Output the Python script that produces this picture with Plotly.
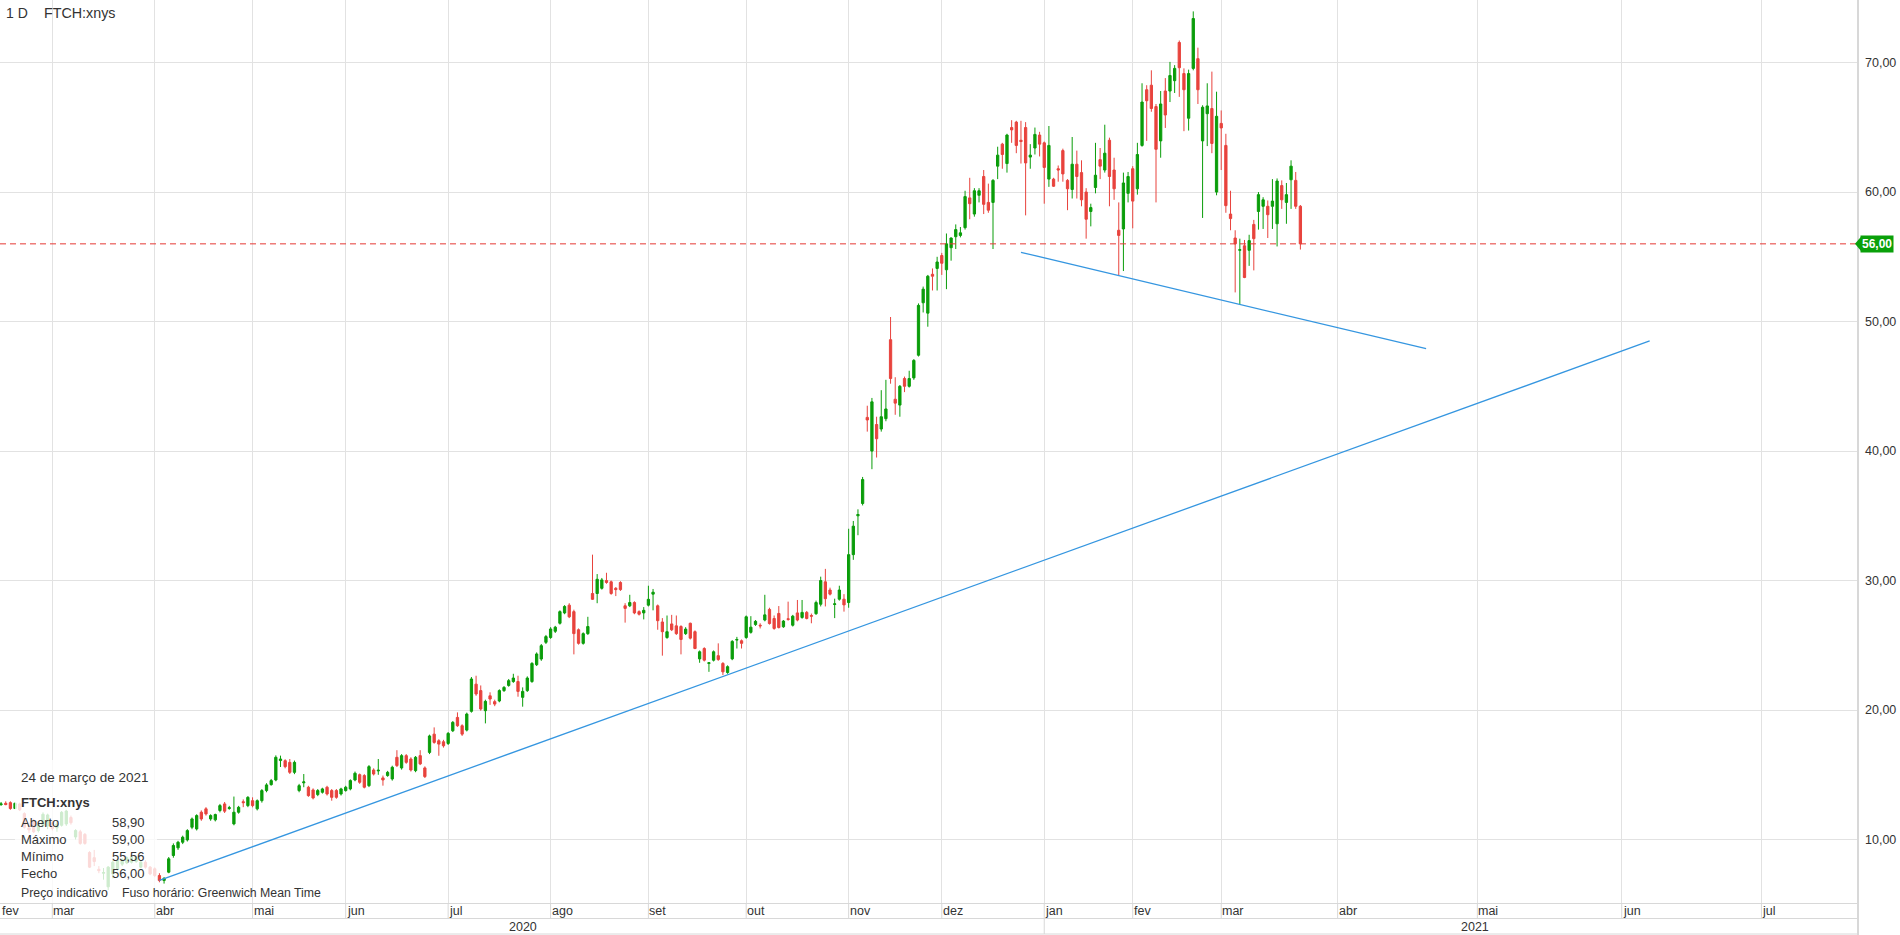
import plotly.graph_objects as go
import pandas as pd

# ---------------- DATA ----------------
holidays = ["2020-02-17", "2020-04-10", "2020-05-25", "2020-07-03", "2020-09-07",
            "2020-11-26", "2020-12-25", "2021-01-01", "2021-01-18", "2021-02-15"]

# (open, high, low, close) per trading day, per month
ohlc_2020_02 = [(12.55, 12.85, 12.45, 12.75), (12.70, 12.90, 12.60, 12.75), (12.80, 12.95, 12.65, 12.70),
                (12.85, 12.95, 12.30, 12.40), (12.40, 12.85, 12.35, 12.80), (12.75, 12.85, 12.20, 12.30),
                (12.00, 12.10, 10.85, 10.95), (10.90, 11.30, 10.50, 10.75), (11.45, 11.60, 10.50, 10.60),
                (10.70, 11.30, 10.55, 11.15), (11.10, 12.10, 10.95, 11.95), (11.05, 12.00, 10.80, 11.90)]
ohlc_2020_03 = [(11.30, 11.45, 10.70, 10.85), (10.90, 11.40, 10.60, 11.20), (11.10, 12.20, 11.00, 12.10),
                (11.20, 12.30, 11.05, 12.20), (11.70, 11.85, 11.15, 11.30), (10.20, 10.80, 10.00, 10.70),
                (10.60, 10.75, 9.60, 9.70), (10.40, 10.50, 9.60, 9.70), (9.00, 9.10, 7.80, 7.87),
                (8.60, 9.20, 7.95, 8.30), (7.70, 7.95, 7.40, 7.60), (7.40, 7.80, 6.90, 7.45),
                (6.35, 7.95, 6.10, 7.87), (7.35, 8.40, 7.00, 8.25), (7.70, 8.60, 7.60, 8.38),
                (8.10, 8.55, 7.95, 8.45), (8.20, 8.70, 8.10, 8.60), (8.25, 8.80, 8.15, 8.65),
                (8.30, 8.70, 8.20, 8.60), (7.87, 8.35, 7.80, 8.25), (8.25, 8.40, 7.75, 7.87),
                (7.87, 7.95, 7.25, 7.35)]
ohlc_2020_04 = [(7.74, 7.85, 7.10, 7.22), (7.22, 7.40, 6.70, 6.84), (6.84, 7.10, 6.60, 7.00),
                (7.48, 8.65, 7.40, 8.51), (8.77, 9.70, 8.60, 9.54), (9.36, 9.90, 9.20, 9.79),
                (9.79, 10.30, 9.65, 10.18), (9.97, 10.80, 9.85, 10.69), (10.95, 11.70, 10.80, 11.59),
                (10.82, 11.95, 10.70, 11.85), (12.11, 12.25, 11.45, 11.59), (12.37, 12.50, 11.85, 11.98),
                (11.59, 11.95, 11.45, 11.85), (11.52, 12.00, 11.40, 11.93), (12.24, 12.75, 12.10, 12.62),
                (12.75, 12.90, 12.05, 12.19), (12.40, 12.60, 12.30, 12.46), (11.21, 13.32, 11.10, 12.11),
                (12.11, 12.60, 12.00, 12.49), (12.92, 13.10, 12.50, 12.85), (12.62, 13.35, 12.50, 13.26)]
ohlc_2020_05 = [(13.00, 13.26, 12.49, 12.62), (12.37, 13.10, 12.25, 13.00), (13.00, 13.90, 12.85, 13.78),
                (13.78, 14.35, 13.65, 14.22), (14.24, 14.68, 14.16, 14.55), (14.60, 16.50, 14.50, 16.35),
                (16.10, 16.48, 15.60, 16.22), (16.09, 16.20, 15.50, 15.63), (15.96, 16.22, 15.06, 15.19),
                (15.19, 16.10, 15.05, 15.96), (13.78, 14.30, 13.65, 14.16), (14.38, 15.06, 14.04, 14.45),
                (14.04, 14.15, 13.30, 13.39), (13.83, 13.95, 13.10, 13.21), (13.47, 13.90, 13.35, 13.78),
                (13.65, 14.00, 13.55, 13.91), (14.04, 14.15, 13.40, 13.52), (13.78, 13.90, 13.00, 13.26),
                (13.78, 13.90, 13.15, 13.26), (13.52, 14.00, 13.40, 13.91)]
ohlc_2020_06 = [(13.78, 14.15, 13.70, 14.04), (13.91, 14.65, 13.80, 14.55), (14.60, 15.25, 14.50, 15.12),
                (15.01, 15.10, 14.30, 14.42), (14.94, 15.05, 13.95, 14.04), (14.16, 15.75, 14.05, 15.63),
                (15.37, 15.50, 14.95, 15.06), (15.30, 16.22, 15.00, 15.35), (14.76, 14.94, 14.16, 14.60),
                (14.94, 15.30, 14.85, 15.19), (14.68, 15.70, 14.55, 15.58), (16.35, 16.90, 15.60, 15.71),
                (15.53, 16.60, 15.40, 16.48), (16.48, 16.60, 15.85, 15.96), (16.22, 16.35, 15.25, 15.37),
                (15.32, 16.45, 15.20, 16.35), (16.48, 16.90, 15.75, 15.84), (15.53, 15.65, 14.75, 14.86),
                (16.73, 18.10, 16.60, 18.00), (18.14, 18.66, 17.40, 17.50), (17.63, 17.75, 16.47, 17.37),
                (17.55, 17.70, 17.10, 17.24)]
ohlc_2020_07 = [(17.42, 18.30, 17.30, 18.20), (18.40, 19.15, 18.30, 19.05), (19.43, 19.82, 18.70, 18.79),
                (18.79, 18.90, 18.00, 18.14), (18.45, 19.80, 18.35, 19.69), (19.90, 22.55, 19.80, 22.40),
                (22.00, 22.65, 21.10, 21.24), (21.50, 21.90, 19.95, 20.08), (19.95, 20.80, 18.97, 20.67),
                (21.10, 21.37, 20.40, 20.85), (20.65, 20.80, 20.30, 20.46), (20.70, 21.60, 20.60, 21.50),
                (21.50, 21.85, 21.40, 21.75), (21.90, 22.40, 21.80, 22.27), (22.20, 22.80, 22.10, 22.47),
                (22.20, 22.65, 21.03, 21.44), (20.98, 21.75, 20.26, 21.44), (21.50, 22.60, 21.40, 22.47),
                (22.20, 23.70, 22.10, 23.60), (23.50, 24.45, 23.40, 24.33), (23.94, 25.10, 23.80, 24.97),
                (25.23, 25.80, 25.10, 25.67)]
ohlc_2020_08 = [(25.60, 26.40, 25.50, 26.26), (26.08, 26.50, 25.95, 26.40), (26.70, 27.70, 26.60, 27.60),
                (27.50, 28.10, 27.40, 28.00), (28.10, 28.25, 27.10, 27.20), (27.60, 27.75, 24.30, 25.90),
                (26.20, 26.30, 25.05, 25.15), (25.15, 26.00, 25.05, 25.90), (25.90, 27.20, 25.80, 26.45),
                (29.00, 32.00, 28.50, 28.55), (29.00, 30.50, 28.25, 30.10), (29.40, 30.20, 29.30, 30.05),
                (30.00, 30.60, 29.75, 29.85), (29.90, 30.00, 28.90, 29.00), (29.40, 29.50, 28.80, 29.30),
                (29.85, 29.95, 29.20, 29.30), (28.05, 28.25, 26.75, 27.85), (28.05, 28.90, 27.95, 28.30),
                (28.30, 28.40, 27.40, 27.50), (27.60, 27.70, 27.30, 27.40), (27.50, 27.95, 27.00, 27.70)]
ohlc_2020_09 = [(28.10, 29.60, 28.00, 28.55), (28.95, 29.35, 27.70, 29.10), (28.05, 28.15, 26.20, 26.90),
                (26.80, 27.10, 24.20, 26.05), (25.60, 27.30, 25.50, 26.05), (26.65, 27.35, 26.10, 26.20),
                (26.50, 27.30, 25.80, 25.90), (26.45, 26.55, 24.30, 25.45), (25.90, 26.40, 25.80, 26.25),
                (26.70, 26.75, 25.45, 25.55), (26.05, 26.15, 24.70, 24.75), (23.95, 24.60, 23.65, 24.50),
                (24.75, 24.85, 23.75, 23.85), (23.60, 23.70, 22.95, 23.65), (23.85, 24.60, 23.75, 24.50),
                (24.20, 25.15, 23.80, 23.90), (23.60, 23.70, 22.70, 22.95), (22.90, 23.45, 22.80, 23.35),
                (23.95, 25.40, 23.85, 25.30), (25.40, 25.65, 24.75, 25.45), (25.35, 25.45, 24.75, 25.15)]
ohlc_2020_10 = [(25.60, 27.30, 25.50, 27.20), (26.00, 27.25, 25.90, 26.40), (26.60, 26.95, 26.50, 26.85),
                (26.55, 26.70, 26.30, 26.50), (26.95, 28.90, 26.85, 27.35), (27.77, 27.90, 26.60, 26.68),
                (27.07, 27.30, 26.20, 26.30), (27.46, 28.03, 26.30, 26.37), (26.43, 26.95, 26.35, 26.87),
                (27.05, 28.37, 26.90, 27.00), (26.55, 27.35, 26.45, 27.25), (27.50, 28.50, 26.85, 26.95),
                (27.15, 28.50, 27.05, 27.54), (27.54, 27.65, 27.00, 27.07), (27.30, 27.45, 26.70, 27.25),
                (27.44, 28.45, 27.35, 28.30), (28.17, 30.30, 28.00, 30.00), (29.90, 30.90, 28.00, 28.60),
                (29.27, 29.45, 28.85, 28.95), (28.15, 28.60, 27.10, 28.20), (28.56, 29.60, 28.45, 29.27),
                (28.56, 28.95, 27.60, 28.12)]
ohlc_2020_11 = [(28.30, 34.00, 27.90, 32.00), (32.00, 34.60, 31.60, 34.20), (35.00, 35.50, 33.50, 35.10),
                (35.95, 38.00, 35.80, 37.80), (42.60, 43.50, 41.50, 42.40), (40.00, 44.10, 38.60, 43.80),
                (42.05, 42.65, 39.50, 40.95), (41.70, 44.70, 41.50, 42.65), (42.50, 45.50, 42.30, 43.25),
                (48.60, 50.35, 45.20, 45.60), (44.00, 45.70, 42.80, 43.70), (43.55, 45.10, 42.65, 45.00),
                (45.60, 45.75, 44.55, 45.00), (45.00, 46.20, 44.90, 45.60), (45.65, 47.10, 45.50, 47.00),
                (47.40, 51.40, 47.30, 51.25), (51.45, 52.70, 50.70, 52.50), (50.65, 53.60, 49.60, 53.50),
                (53.65, 54.10, 52.40, 53.50), (54.10, 55.00, 52.40, 54.60)]
ohlc_2020_12 = [(55.10, 55.30, 53.60, 54.50), (54.00, 56.80, 52.50, 56.00), (55.70, 56.50, 54.70, 56.45),
                (56.55, 57.50, 55.60, 57.10), (56.65, 57.30, 56.50, 56.85), (57.25, 60.10, 57.10, 59.65),
                (59.55, 61.10, 57.90, 59.10), (58.30, 60.30, 58.10, 60.10), (59.75, 60.30, 59.20, 60.10),
                (61.20, 61.70, 58.30, 59.05), (59.20, 60.65, 58.40, 58.60), (59.20, 61.00, 55.60, 60.90),
                (62.00, 63.50, 61.00, 62.85), (63.70, 63.80, 61.80, 62.90), (62.20, 64.50, 61.50, 64.40),
                (64.98, 65.55, 63.80, 64.80), (65.40, 65.50, 63.00, 63.60), (64.00, 65.50, 62.20, 63.90),
                (64.98, 65.40, 58.20, 62.25), (62.70, 63.70, 61.80, 62.85), (63.40, 64.98, 62.90, 64.45),
                (64.40, 64.65, 62.75, 63.70)]
ohlc_2021_01 = [(63.80, 63.90, 59.10, 61.90), (61.00, 65.10, 60.40, 63.60), (61.00, 61.10, 60.40, 60.45),
                (61.80, 62.05, 60.80, 61.70), (63.20, 63.35, 60.80, 61.40), (60.90, 61.00, 58.60, 60.25),
                (60.20, 64.25, 59.50, 62.15), (62.15, 63.20, 59.50, 61.20), (61.50, 62.45, 58.90, 59.40),
                (60.00, 60.30, 56.40, 57.90), (58.50, 59.10, 57.35, 58.80), (60.35, 63.80, 59.90, 61.30),
                (62.50, 63.40, 61.00, 62.00), (61.70, 65.20, 61.50, 63.00), (64.00, 64.20, 58.90, 61.20),
                (61.70, 62.65, 59.40, 60.25), (57.05, 59.20, 53.55, 56.65), (57.15, 61.50, 53.90, 60.70),
                (59.90, 61.55, 59.20, 61.20)]
ohlc_2021_02 = [(61.80, 62.00, 57.20, 59.30), (60.25, 63.80, 59.80, 62.90), (63.60, 68.40, 63.50, 66.95),
                (67.90, 68.25, 63.95, 67.05), (68.25, 69.40, 66.20, 66.45), (66.60, 66.80, 59.20, 63.30),
                (63.95, 67.80, 62.65, 66.80), (67.80, 68.80, 64.95, 65.95), (67.80, 70.05, 66.95, 69.00),
                (68.60, 69.80, 67.65, 69.55), (71.55, 71.70, 67.35, 69.60), (69.15, 69.55, 64.70, 67.90),
                (65.70, 69.45, 64.75, 69.15), (69.55, 73.95, 69.40, 73.40), (70.30, 71.15, 66.80, 67.90),
                (63.95, 66.70, 58.00, 66.55), (66.05, 68.40, 63.55, 66.65), (66.45, 69.30, 63.00, 63.75),
                (60.00, 67.75, 59.75, 65.85)]
ohlc_2021_03 = [(65.30, 66.30, 61.70, 64.95), (63.60, 64.50, 58.40, 58.95), (58.30, 60.10, 57.05, 57.95),
                (56.45, 57.05, 52.25, 56.00), (55.50, 56.40, 51.35, 55.55), (55.85, 56.30, 53.35, 53.40),
                (55.50, 56.70, 54.30, 56.25), (57.50, 57.85, 53.95, 56.40), (58.50, 60.00, 57.10, 59.80),
                (58.90, 59.60, 57.15, 59.40), (58.90, 59.35, 56.45, 58.25), (58.90, 61.00, 57.15, 59.30),
                (57.55, 61.05, 55.80, 60.85), (60.50, 60.90, 58.70, 59.40), (59.20, 60.70, 57.55, 59.80),
                (60.95, 62.45, 58.70, 62.00), (60.90, 61.55, 58.70, 58.90), (58.90, 59.00, 55.56, 56.00)]

last_price = 56.00
last_label = "56,00"
info_date = "24 de março de 2021"
info_rows = [("Aberto", "58,90"), ("Máximo", "59,00"), ("Mínimo", "55,56"), ("Fecho", "56,00")]

# trend lines (date, price)
support_dates = ["2020-04-02", "2021-06-07"]
support_prices = [6.84, 48.5]
resist_dates = ["2020-12-24", "2021-04-20"]
resist_prices = [55.35, 47.9]

y_ticks = [10, 20, 30, 40, 50, 60, 70]
y_tick_text = ["10,00", "20,00", "30,00", "40,00", "50,00", "60,00", "70,00"]

month_ticks = ["2020-03-02", "2020-04-01", "2020-05-01", "2020-06-01", "2020-07-01", "2020-08-03",
               "2020-09-01", "2020-10-01", "2020-11-02", "2020-12-01", "2021-01-04", "2021-02-01",
               "2021-03-01", "2021-04-01", "2021-05-01", "2021-06-01", "2021-07-01"]
month_text = ["mar", "abr", "mai", "jun", "jul", "ago", "set", "out", "nov", "dez",
              "jan", "fev", "mar", "abr", "mai", "jun", "jul"]

# ---------------- BUILD ----------------
trade_days = [d.strftime("%Y-%m-%d") for d in pd.bdate_range("2020-02-12", "2021-03-24")
              if d.strftime("%Y-%m-%d") not in holidays]
future_days = [d.strftime("%Y-%m-%d") for d in pd.date_range("2021-03-25", "2021-08-10")]
all_days = trade_days + future_days

ohlc = (ohlc_2020_02 + ohlc_2020_03 + ohlc_2020_04 + ohlc_2020_05 + ohlc_2020_06 + ohlc_2020_07 +
        ohlc_2020_08 + ohlc_2020_09 + ohlc_2020_10 + ohlc_2020_11 + ohlc_2020_12 + ohlc_2021_01 +
        ohlc_2021_02 + ohlc_2021_03)
n = min(len(ohlc), len(trade_days))
dates = trade_days[-n:]
ohlc = ohlc[-n:]

W, H = 1900, 935
PL, PR, PT, PB = 0, 42, 0, 32
PW, PH = W - PL - PR, H - PT - PB


def px(x):
    return (x - PL) / PW


def py(y):
    return 1 - (y - PT) / PH


FONT = "Arial, Liberation Sans, Helvetica, sans-serif"
TXT = "#333333"
GREEN = "#0a9d0a"
RED = "#e8433d"
GRID = "#e2e2e2"
BAND = "#d8d8d8"
BLUE = "#3596e0"
AX_FONT = 12.5

fig = go.Figure()
fig.add_trace(go.Scatter(x=all_days, y=[None] * len(all_days), mode="lines",
                         hoverinfo="skip", showlegend=False))
fig.add_trace(go.Candlestick(
    x=dates,
    open=[r[0] for r in ohlc], high=[r[1] for r in ohlc],
    low=[r[2] for r in ohlc], close=[r[3] for r in ohlc],
    increasing=dict(line=dict(color=GREEN, width=1), fillcolor=GREEN),
    decreasing=dict(line=dict(color=RED, width=1), fillcolor=RED),
    whiskerwidth=0, showlegend=False))
fig.add_trace(go.Scatter(x=support_dates, y=support_prices, mode="lines",
                         line=dict(color=BLUE, width=1.3), hoverinfo="skip", showlegend=False))
fig.add_trace(go.Scatter(x=resist_dates, y=resist_prices, mode="lines",
                         line=dict(color=BLUE, width=1.3), hoverinfo="skip", showlegend=False))

x_left = all_days.index("2020-03-02") - 52.3 / 4.657
x_right = x_left + PW / 4.657

shapes = []
# last price dashed line
shapes.append(dict(type="line", xref="paper", yref="y", x0=0, x1=1, y0=last_price, y1=last_price,
                   line=dict(color="#e53935", width=1, dash="6px,4px")))
# info overlay box
shapes.append(dict(type="rect", xref="paper", yref="paper", x0=px(15), x1=px(157), y0=py(903), y1=py(760),
                   fillcolor="rgba(255,255,255,0.8)", line=dict(width=0), layer="above"))
# bottom band lines
for yy in (903.5, 918.5, 934):
    shapes.append(dict(type="line", xref="paper", yref="paper", x0=0, x1=1, y0=py(yy), y1=py(yy),
                       line=dict(color=BAND, width=1)))
# month separators in band
for d in month_ticks:
    y_end = py(934) if d == "2021-01-04" else py(918.5)
    shapes.append(dict(type="line", xref="x", yref="paper", x0=d, x1=d, y0=py(903.5), y1=y_end,
                       line=dict(color=BAND, width=1)))
# right axis line
shapes.append(dict(type="line", xref="paper", yref="paper", x0=1, x1=1, y0=1, y1=py(935),
                   line=dict(color=BAND, width=2)))
# price tag arrow
shapes.append(dict(type="path", xref="paper", yref="y",
                   path=f"M {px(1855)},{last_price} L {px(1861)},{last_price + 0.55} L {px(1861)},{last_price - 0.55} Z",
                   fillcolor="#0aa00a", line=dict(width=0)))

ann = []
ann.append(dict(xref="paper", yref="paper", x=px(0), y=py(911), text="fev", showarrow=False,
                xanchor="left", yanchor="middle", font=dict(size=AX_FONT, color=TXT, family=FONT)))
for d, t in zip(month_ticks, month_text):
    ann.append(dict(xref="x", yref="paper", x=d, y=py(911), text=t, showarrow=False, xshift=-1,
                    xanchor="left", yanchor="middle", font=dict(size=AX_FONT, color=TXT, family=FONT)))
ann.append(dict(xref="paper", yref="paper", x=px(523), y=py(926.5), text="2020", showarrow=False,
                xanchor="center", yanchor="middle", font=dict(size=AX_FONT, color=TXT, family=FONT)))
ann.append(dict(xref="paper", yref="paper", x=px(1475), y=py(926.5), text="2021", showarrow=False,
                xanchor="center", yanchor="middle", font=dict(size=AX_FONT, color=TXT, family=FONT)))
ann.append(dict(xref="paper", yref="paper", x=px(4), y=py(13), text="1 D", showarrow=False,
                xanchor="left", yanchor="middle", font=dict(size=14, color=TXT, family=FONT)))
ann.append(dict(xref="paper", yref="paper", x=px(42), y=py(13), text="FTCH:xnys", showarrow=False,
                xanchor="left", yanchor="middle", font=dict(size=14.3, color=TXT, family=FONT)))
ann.append(dict(xref="paper", yref="y", x=1, xshift=2, y=last_price, text="<b>" + last_label + "</b>",
                showarrow=False, xanchor="left", yanchor="middle", bgcolor="#0aa00a", borderpad=1,
                font=dict(size=12, color="white", family=FONT)))
# info box texts
ann.append(dict(xref="paper", yref="paper", x=px(19), y=py(777), text=info_date, showarrow=False,
                xanchor="left", yanchor="middle", font=dict(size=13.5, color=TXT, family=FONT)))
ann.append(dict(xref="paper", yref="paper", x=px(19), y=py(802), text="<b>FTCH:xnys</b>", showarrow=False,
                xanchor="left", yanchor="middle", font=dict(size=13, color=TXT, family=FONT)))
for k, (lab, val) in enumerate(info_rows):
    yy = 822 + k * 17
    ann.append(dict(xref="paper", yref="paper", x=px(19), y=py(yy), text=lab, showarrow=False,
                    xanchor="left", yanchor="middle", font=dict(size=13, color=TXT, family=FONT)))
    ann.append(dict(xref="paper", yref="paper", x=px(147), y=py(yy), text=val, showarrow=False,
                    xanchor="right", yanchor="middle", font=dict(size=13, color=TXT, family=FONT)))
ann.append(dict(xref="paper", yref="paper", x=px(19), y=py(893), text="Preço indicativo", showarrow=False,
                xanchor="left", yanchor="middle", font=dict(size=12.3, color=TXT, family=FONT)))
ann.append(dict(xref="paper", yref="paper", x=px(120), y=py(893), text="Fuso horário: Greenwich Mean Time",
                showarrow=False, xanchor="left", yanchor="middle", font=dict(size=12.3, color=TXT, family=FONT)))

fig.update_layout(
    width=W, height=H, margin=dict(l=PL, r=PR, t=PT, b=PB, pad=0),
    paper_bgcolor="white", plot_bgcolor="white", showlegend=False,
    font=dict(family=FONT, color=TXT, size=12),
    xaxis=dict(type="category", categoryorder="array", categoryarray=all_days,
               range=[x_left, x_right], tickvals=month_ticks, showticklabels=False,
               showgrid=True, gridcolor=GRID, gridwidth=1, zeroline=False, showline=False,
               ticks="", rangeslider=dict(visible=False), fixedrange=True),
    yaxis=dict(side="right", range=[5.10, 74.83], tickvals=y_ticks, ticktext=y_tick_text,
               showgrid=True, gridcolor=GRID, gridwidth=1, zeroline=False, showline=False,
               ticks="", ticklabelstandoff=6, tickfont=dict(size=AX_FONT, color=TXT, family=FONT),
               fixedrange=True),
    shapes=shapes, annotations=ann, hovermode=False,
)

fig.write_html("out.html", config={"displayModeBar": False},
               post_script="document.body.style.margin='0px';document.body.style.overflow='hidden';")
